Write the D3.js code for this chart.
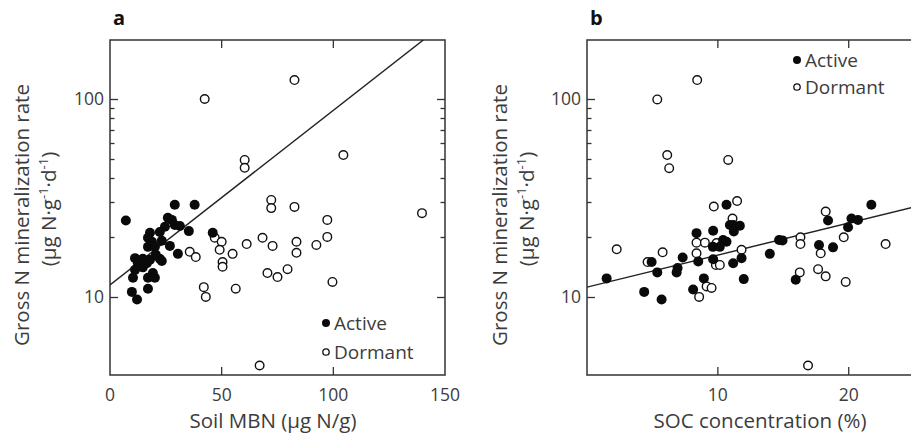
<!DOCTYPE html>
<html><head><meta charset="utf-8">
<script src="https://cdn.jsdelivr.net/npm/d3@7"></script>
<style>
body{margin:0;background:#fff}
svg{display:block}
text{font-family:"Open Sans",sans-serif;}
</style>
</head><body>
<svg id="c" width="911" height="440"></svg>
<script>
// ---------- Data ----------
// Panel a: soil MBN (µg N/g) vs gross N mineralization rate
const mbnActive = [7.1, 29.0, 37.9, 25.9, 27.7, 24.6, 29.0, 31.3, 35.3, 46.0, 17.9, 17.0, 18.8, 23.2, 26.8, 20.1, 17.0, 30.4, 11.2, 14.7, 12.5, 17.9, 22.3, 16.5, 11.2, 10.3, 19.2, 17.0, 20.1, 23.2, 9.8, 12.1, 17.0, 14.7, 22.3, 20.5];
const rateActiveA = [24.3, 29.2, 29.2, 25.1, 24.5, 22.6, 23.1, 22.8, 21.5, 21.1, 21.1, 19.9, 19.0, 19.2, 18.1, 17.9, 17.9, 16.5, 15.7, 15.6, 14.8, 15.4, 15.6, 14.8, 13.7, 12.5, 13.2, 12.5, 12.5, 15.2, 10.6, 9.7, 11.0, 14.1, 21.3, 16.3];
const mbnDormant = [60.3, 60.3, 42.4, 82.6, 72.2, 72.2, 82.6, 104.5, 97.3, 139.7, 46.9, 50.0, 49.1, 54.9, 50.4, 50.4, 35.7, 38.4, 61.2, 68.3, 72.8, 83.5, 83.5, 70.5, 75.0, 79.5, 42.0, 42.9, 56.3, 67.0, 92.4, 97.3, 99.6];
const rateDormantA = [49.2, 44.9, 100, 124.7, 30.9, 28.1, 28.5, 52.1, 24.5, 26.5, 19.9, 19.0, 17.3, 16.5, 15.0, 14.2, 16.9, 15.9, 18.5, 19.9, 18.1, 19.0, 16.7, 13.2, 12.6, 13.8, 11.2, 10.0, 11.0, 4.5, 18.3, 20.1, 11.9];
const fitAx = [0, 140.6];
const fitAy = [11.5, 200];

// Panel b: SOC concentration (%) vs gross N mineralization rate
const socActive = [10.66, 1.50, 4.37, 5.70, 4.94, 5.37, 7.31, 6.92, 6.85, 8.37, 8.50, 9.64, 9.64, 8.93, 8.11, 10.92, 9.62, 11.17, 11.68, 11.22, 10.40, 10.66, 10.15, 11.17, 11.81, 11.98, 13.97, 14.68, 14.94, 15.95, 17.73, 18.80, 18.42, 21.73, 20.21, 20.71, 19.95];
const rateActiveB = [29.2, 12.4, 10.6, 9.7, 15.0, 13.3, 15.8, 14.0, 13.3, 21.0, 15.1, 21.6, 15.5, 12.4, 10.9, 23.1, 17.9, 23.1, 22.9, 21.4, 19.4, 19.0, 17.9, 14.8, 15.7, 12.3, 16.5, 19.4, 19.3, 12.2, 18.3, 17.8, 24.3, 29.2, 24.9, 24.5, 22.5];
const socDormant = [5.37, 8.42, 6.13, 6.28, 10.79, 9.69, 2.27, 5.78, 4.63, 8.37, 9.01, 8.37, 9.85, 9.14, 9.52, 8.57, 11.47, 11.12, 18.24, 16.31, 16.31, 19.62, 22.82, 17.86, 17.66, 18.24, 16.26, 19.77, 11.81, 10.15, 16.89, 9.9];
const rateDormantB = [99.5, 124.7, 52.1, 44.7, 49.2, 28.6, 17.4, 16.8, 15.0, 18.8, 18.8, 16.6, 14.5, 11.3, 11.1, 10.0, 30.5, 24.9, 27.0, 20.0, 18.5, 20.0, 18.5, 16.6, 13.8, 12.7, 13.3, 11.9, 17.3, 14.5, 4.5, 18.7];
const fitBx = [0, 25.6];
const fitBy = [11.2, 29.1];

const yMajorTicks = [10, 100];
const yMinorTicks = [20, 30, 40, 50, 60, 70, 80, 90];
const xTicksA = [0, 50, 100, 150];
const xTicksB = [10, 20];
const legendLabels = ["Active", "Dormant"];

// ---------- Drawing ----------
const svg = d3.select("#c");
const AX = "#333", TXT = "#3c3c3c";

function panel(o) {
  const L = o.left, T = 40, W = 335, H = 335;
  const x = d3.scaleLinear().domain(o.xDomain).range([L, L + W]);
  const y = d3.scaleLog().domain([4.03, 198.7]).range([T + H, T]);
  const g = svg.append("g");
  const clipId = "clip" + o.id;
  svg.append("clipPath").attr("id", clipId).append("rect")
    .attr("x", L).attr("y", T).attr("width", W).attr("height", H);

  // box
  g.append("rect").attr("x", L).attr("y", T).attr("width", W).attr("height", H)
    .attr("fill", "none").attr("stroke", AX).attr("stroke-width", 1.5);

  // y ticks (inside, mirrored)
  const yt = yMajorTicks.map(v => ({v, len: 8})).concat(yMinorTicks.map(v => ({v, len: 4.5})));
  yt.forEach(t => {
    const yy = Math.round(y(t.v)) + 0.5;
    g.append("line").attr("x1", L).attr("x2", L + t.len).attr("y1", yy).attr("y2", yy)
      .attr("stroke", AX).attr("stroke-width", 1.3);
    g.append("line").attr("x1", L + W).attr("x2", L + W - t.len).attr("y1", yy).attr("y2", yy)
      .attr("stroke", AX).attr("stroke-width", 1.3);
  });
  yMajorTicks.forEach(v => {
    g.append("text").attr("x", L - 6).attr("y", y(v)).attr("dy", "0.35em")
      .attr("text-anchor", "end").attr("font-size", 17.5).attr("fill", TXT).text(v);
  });

  // x ticks
  o.xTicks.forEach(v => {
    const xx = x(v);
    if (v !== o.xDomain[0] && v !== o.xDomain[1]) {
      g.append("line").attr("x1", xx).attr("x2", xx).attr("y1", T + H).attr("y2", T + H - 8)
        .attr("stroke", AX).attr("stroke-width", 1.3);
      g.append("line").attr("x1", xx).attr("x2", xx).attr("y1", T).attr("y2", T + 8)
        .attr("stroke", AX).attr("stroke-width", 1.3);
    }
    g.append("text").attr("x", xx).attr("y", 401).attr("text-anchor", "middle")
      .attr("font-size", 17.5).attr("fill", TXT).text(v);
  });

  // axis titles
  g.append("text").attr("x", o.xTitleX).attr("y", 428).attr("text-anchor", "middle")
    .attr("font-size", 20.5).attr("fill", TXT).text(o.xTitle);
  const yt1 = g.append("text").attr("transform", `translate(${o.yTitleX},215) rotate(-90)`)
    .attr("text-anchor", "middle").attr("font-size", 20.5).attr("fill", TXT)
    .attr("dy", "0.35em").text("Gross N mineralization rate");
  const yt2 = g.append("text").attr("transform", `translate(${o.yTitleX + 27},209) rotate(-90)`)
    .attr("text-anchor", "middle").attr("font-size", 20.5).attr("fill", TXT).attr("dy", "0.35em");
  yt2.append("tspan").text("(μg N·g");
  yt2.append("tspan").attr("font-size", 13).attr("dy", -8).text("-1");
  yt2.append("tspan").attr("dy", 8).text("·d");
  yt2.append("tspan").attr("font-size", 13).attr("dy", -8).text("-1");
  yt2.append("tspan").attr("dy", 8).text(")");

  // panel letter
  g.append("text").attr("x", L + 3).attr("y", 25).attr("font-size", 20)
    .attr("font-weight", "bold").attr("fill", "#111").text(o.letter);

  const pg = g.append("g").attr("clip-path", `url(#${clipId})`);
  // fit line
  pg.append("line").attr("x1", x(o.fitX[0])).attr("y1", y(o.fitY[0]))
    .attr("x2", x(o.fitX[1])).attr("y2", y(o.fitY[1]))
    .attr("stroke", "#222").attr("stroke-width", 1.4);

  // dormant (open)
  pg.selectAll(".d").data(o.dx.map((v, i) => [v, o.dy[i]])).enter().append("circle")
    .attr("cx", d => x(d[0])).attr("cy", d => y(d[1])).attr("r", 4.3)
    .attr("fill", "#fff").attr("stroke", "#111").attr("stroke-width", 1.4);
  // active (filled)
  pg.selectAll(".a").data(o.ax.map((v, i) => [v, o.ay[i]])).enter().append("circle")
    .attr("cx", d => x(d[0])).attr("cy", d => y(d[1])).attr("r", 5)
    .attr("fill", "#0a0a0a");

  // legend
  const lg = g.append("g");
  lg.append("circle").attr("cx", o.legX).attr("cy", o.legY).attr("r", 4).attr("fill", "#0a0a0a");
  lg.append("circle").attr("cx", o.legX).attr("cy", o.legY + o.legGap).attr("r", 3.2)
    .attr("fill", "#fff").attr("stroke", "#111").attr("stroke-width", 1.3);
  legendLabels.forEach((s, i) => {
    lg.append("text").attr("x", o.legX + 8).attr("y", o.legY + i * o.legGap).attr("dy", "0.35em")
      .attr("font-size", 19).attr("fill", TXT).text(s);
  });
}

panel({id: "a", left: 110, xDomain: [0, 150], xTicks: xTicksA, letter: "a",
  xTitle: "Soil MBN (μg N/g)", xTitleX: 273, yTitleX: 22,
  ax: mbnActive, ay: rateActiveA, dx: mbnDormant, dy: rateDormantA,
  fitX: fitAx, fitY: fitAy, legX: 326, legY: 323, legGap: 29});

panel({id: "b", left: 587, xDomain: [0, 25.6], xTicks: xTicksB, letter: "b",
  xTitle: "SOC concentration (%)", xTitleX: 760, yTitleX: 500,
  ax: socActive, ay: rateActiveB, dx: socDormant, dy: rateDormantB,
  fitX: fitBx, fitY: fitBy, legX: 797, legY: 60, legGap: 27});
</script>
</body></html>
